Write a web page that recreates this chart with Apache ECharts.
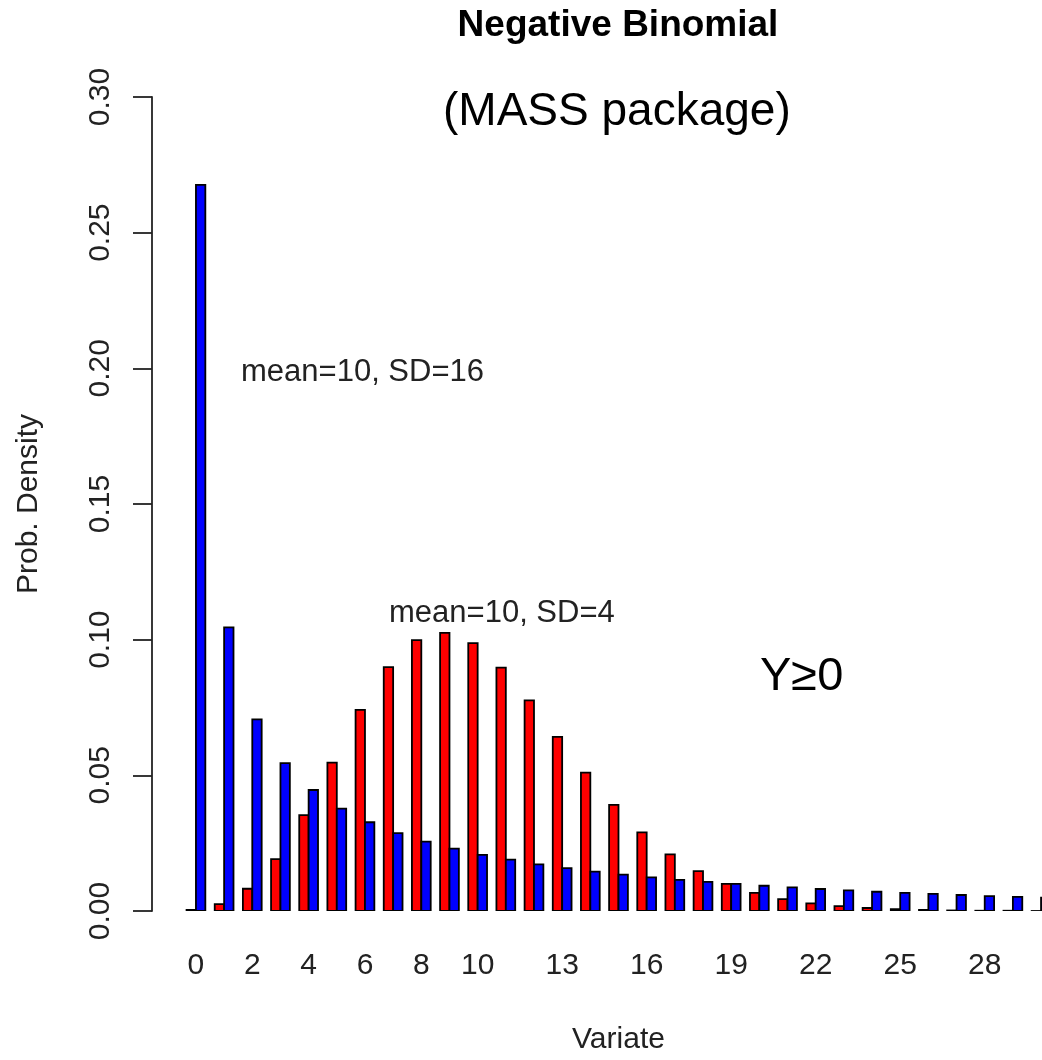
<!DOCTYPE html>
<html><head><meta charset="utf-8">
<script src="https://cdn.jsdelivr.net/npm/echarts@6/dist/echarts.min.js"></script>
<style>html,body{margin:0;padding:0;background:#fff;overflow:hidden;width:1042px;height:1060px}#c{width:1085px;height:1060px}</style>
</head><body><div id="c"></div><script>
// Variate values 0..30 (group index)
const variates = [0,1,2,3,4,5,6,7,8,9,10,11,12,13,14,15,16,17,18,19,20,21,22,23,24,25,26,27,28,29,30];
// red bars: mean=10, SD=4
const densitySD4 = [0.0004,0.0025,0.0082,0.0191,0.0353,0.0547,0.0741,0.0899,0.0998,0.1025,0.0987,0.0897,0.0776,0.0642,0.0510,0.0391,0.0290,0.0209,0.0147,0.0100,0.0067,0.0044,0.0028,0.0018,0.0011,0.0007,0.0004,0.0002,0.0001,0.0001,0.0000];
// blue bars: mean=10, SD=16
const densitySD16 = [0.2676,0.1045,0.0706,0.0545,0.0446,0.0377,0.0327,0.0287,0.0256,0.0230,0.0207,0.0189,0.0172,0.0158,0.0145,0.0134,0.0124,0.0115,0.0107,0.0100,0.0093,0.0087,0.0081,0.0076,0.0071,0.0067,0.0063,0.0059,0.0055,0.0052,0.0049];
// x tick labels shown (others hidden for overlap, as in R)
const xTickLabels = [0,2,4,6,8,10,13,16,19,22,25,28];
const yTickStep = 0.05;
const yMax = 0.30;

const FONT = '"Liberation Sans", Arial, sans-serif';
const chart = echarts.init(document.getElementById('c'), null, {renderer: 'canvas', width: 1085, height: 1060});

// R barplot(beside=TRUE, space=c(0,1)): each group takes 3 units: gap, red, blue
function barRenderer(offset, color) {
  return function (params, api) {
    const k = api.value(0), v = api.value(1);
    const x0 = 3 * k + 1 + offset;
    const pTop = api.coord([x0, v]);
    const pBot = api.coord([x0 + 1, 0]);
    return {
      type: 'rect',
      shape: {x: pTop[0], y: pTop[1], width: pBot[0] - pTop[0], height: Math.max(pBot[1] - pTop[1], 0.5)},
      style: {fill: color, stroke: '#000', lineWidth: 1.8}
    };
  };
}

chart.setOption({
  animation: false,
  backgroundColor: '#fff',
  // plot region as in R (extends past the right edge of the cropped picture)
  grid: {left: 152, right: 0, top: 97, bottom: 146, containLabel: false},
  xAxis: {
    type: 'value', min: -2.68, max: 96.68,
    axisLine: {show: false}, axisTick: {show: false}, splitLine: {show: false},
    axisLabel: {
      customValues: xTickLabels.map(v => 3 * v + 2),
      formatter: v => String(Math.round((v - 2) / 3)),
      fontFamily: FONT, fontSize: 30, color: '#222', margin: 40
    },
    name: 'Variate', nameLocation: 'middle', nameGap: 114,
    nameTextStyle: {fontFamily: FONT, fontSize: 30, color: '#222'}
  },
  yAxis: {
    type: 'value', min: 0, max: yMax, interval: yTickStep,
    axisLine: {show: true, onZero: false, lineStyle: {color: '#222', width: 1.8}},
    axisTick: {show: true, length: 19, lineStyle: {color: '#222', width: 1.8}},
    splitLine: {show: false},
    axisLabel: {rotate: 90, formatter: v => v.toFixed(2), fontFamily: FONT, fontSize: 30, color: '#222', margin: 36},
    name: 'Prob. Density', nameLocation: 'middle', nameRotate: 90, nameGap: 108,
    nameTextStyle: {fontFamily: FONT, fontSize: 30, color: '#222'}
  },
  series: [
    {type: 'custom', name: 'mean=10, SD=4', clip: true,
     data: variates.map((k, i) => [k, densitySD4[i]]),
     renderItem: barRenderer(0, '#ff0000'), encode: {x: 0, y: 1}},
    {type: 'custom', name: 'mean=10, SD=16', clip: true,
     data: variates.map((k, i) => [k, densitySD16[i]]),
     renderItem: barRenderer(1, '#0000ff'), encode: {x: 0, y: 1}}
  ],
  graphic: [
    {type: 'text', x: 618, y: 26, style: {text: 'Negative Binomial', font: 'bold 37px ' + FONT, fill: '#000', textAlign: 'center', textVerticalAlign: 'middle'}},
    {type: 'text', x: 443, y: 112, style: {text: '(MASS package)', font: '46px ' + FONT, fill: '#000', textAlign: 'left', textVerticalAlign: 'middle'}},
    {type: 'text', x: 241, y: 372, style: {text: 'mean=10, SD=16', font: '31px ' + FONT, fill: '#222', textAlign: 'left', textVerticalAlign: 'middle'}},
    {type: 'text', x: 389, y: 613, style: {text: 'mean=10, SD=4', font: '31px ' + FONT, fill: '#222', textAlign: 'left', textVerticalAlign: 'middle'}},
    {type: 'text', x: 760, y: 677, style: {text: 'Y≥0', font: '47px ' + FONT, fill: '#000', textAlign: 'left', textVerticalAlign: 'middle'}}
  ]
});
</script></body></html>
